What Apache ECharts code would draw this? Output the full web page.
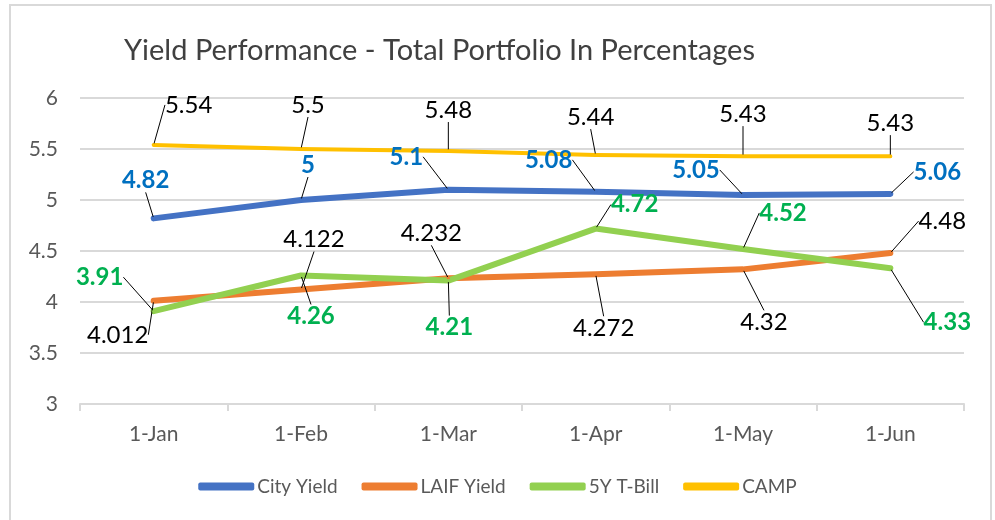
<!DOCTYPE html>
<html>
<head>
<meta charset="utf-8">
<title>Yield Performance</title>
<script src="https://cdn.jsdelivr.net/npm/echarts@6/dist/echarts.min.js"></script>
<style>
  html, body { margin: 0; padding: 0; background: #fff; }
  #chart { width: 995px; height: 520px; }
</style>
</head>
<body>
<div id="chart"></div>
<script>
// data
const months = ['1-Jan', '1-Feb', '1-Mar', '1-Apr', '1-May', '1-Jun'];
const cityYield = [4.82, 5, 5.1, 5.08, 5.05, 5.06];
const laifYield = [4.012, 4.122, 4.232, 4.272, 4.32, 4.48];
const tBill5y = [3.91, 4.26, 4.21, 4.72, 4.52, 4.33];
const camp = [5.54, 5.5, 5.48, 5.44, 5.43, 5.43];
const yTicks = { min: 3, max: 6, step: 0.5 };

// where each data label sits, relative to its point (px)
const cityOffsets = [[-8, -38], [7, -35], [-42, -33], [-47, -32], [-47, -25], [47, -22]];
const laifOffsets = [[-36, 34], [13, -50], [-17, -45], [8, 54], [21, 53], [52, -32]];
const tbillOffsets = [[-54, -34], [10, 41], [1, 47], [39, -24], [40, -36], [57, 54]];
const campOffsets = [[35, -40], [7, -44], [0, -41], [-5, -38], [0, -42], [0, -33]];

const FONT = 'Lato, "Liberation Sans", sans-serif';

function makeSeries(name, data, color, width, labelColor, bold, offsets) {
  return {
    name: name,
    type: 'line',
    data: data,
    symbol: 'circle',
    symbolSize: 3,
    itemStyle: { color: color },
    lineStyle: { color: color, width: width, cap: 'round', join: 'round' },
    label: {
      show: true,
      position: 'inside',
      color: labelColor,
      fontFamily: FONT,
      fontSize: 24,
      fontWeight: bold ? 'bold' : 'normal',
      padding: [4, 6]
    },
    labelLine: {
      show: true,
      lineStyle: { color: '#000', width: 1 }
    },
    labelLayout: function (p) {
      const o = offsets[p.dataIndex];
      return { dx: o[0], dy: o[1] };
    },
    emphasis: { disabled: true },
    animation: false
  };
}

const chart = echarts.init(document.getElementById('chart'));
chart.setOption({
  backgroundColor: '#fff',
  animation: false,
  title: {
    text: 'Yield Performance - Total Portfolio In Percentages',
    left: 119,
    top: 31,
    textStyle: { fontFamily: FONT, fontSize: 29, fontWeight: 'normal', color: '#404040' }
  },
  graphic: [{
    type: 'rect',
    shape: { x: 10, y: 5, width: 981, height: 540 },
    style: { fill: 'none', stroke: '#d9d9d9', lineWidth: 2 },
    silent: true
  }],
  legend: {
    bottom: 19,
    left: 'center',
    icon: 'roundRect',
    itemWidth: 56,
    itemHeight: 8,
    itemGap: 24,
    textStyle: { fontFamily: FONT, fontSize: 19, color: '#595959', padding: [0, 0, 0, -2] },
    data: ['City Yield', 'LAIF Yield', '5Y T-Bill', 'CAMP']
  },
  grid: { left: 80, right: 31, top: 98, bottom: 116 },
  xAxis: {
    type: 'category',
    data: months,
    boundaryGap: true,
    axisLine: { lineStyle: { color: '#d9d9d9', width: 2 } },
    axisTick: { show: true, length: 7, lineStyle: { color: '#d9d9d9', width: 2 } },
    axisLabel: { fontFamily: FONT, fontSize: 21, color: '#595959', margin: 20 }
  },
  yAxis: {
    type: 'value',
    min: yTicks.min,
    max: yTicks.max,
    interval: yTicks.step,
    axisLine: { show: false },
    axisTick: { show: false },
    axisLabel: { fontFamily: FONT, fontSize: 21, color: '#595959', margin: 22 },
    splitLine: { lineStyle: { color: '#d9d9d9', width: 2 } }
  },
  series: [
    makeSeries('City Yield', cityYield, '#4472C4', 6, '#0070C0', true, cityOffsets),
    makeSeries('LAIF Yield', laifYield, '#ED7D31', 6, '#000', false, laifOffsets),
    makeSeries('5Y T-Bill', tBill5y, '#92D050', 6, '#00B050', true, tbillOffsets),
    makeSeries('CAMP', camp, '#FFC000', 4, '#000', false, campOffsets)
  ]
});
</script>
</body>
</html>
